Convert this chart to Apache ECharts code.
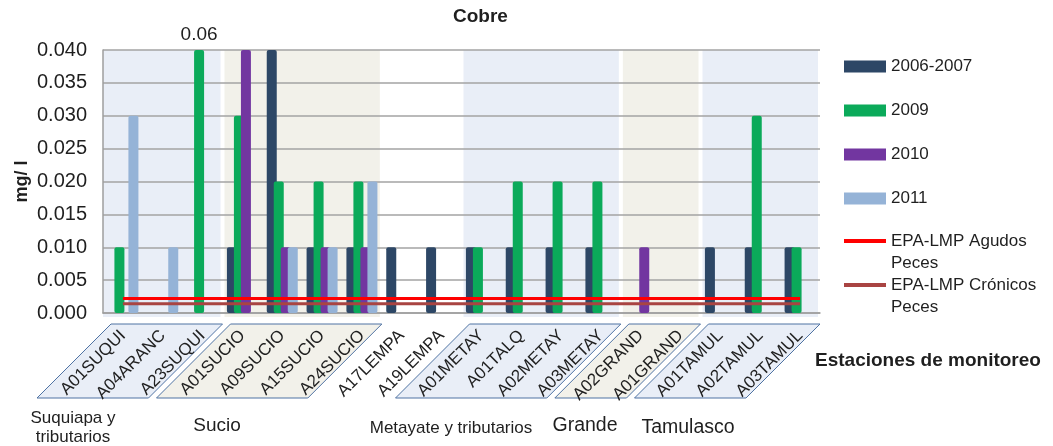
<!DOCTYPE html>
<html>
<head>
<meta charset="utf-8">
<script src="https://cdn.jsdelivr.net/npm/echarts@6/dist/echarts.min.js"></script>
<style>
  html, body { margin: 0; padding: 0; background: #ffffff; }
  #chart { width: 1053px; height: 446px; }
</style>
</head>
<body>
<div id="chart"></div>
<script>
// Copper (Cobre) concentration per monitoring station, mg/l
const stations = ['A01SUQUI', 'A04ARANC', 'A23SUQUI', 'A01SUCIO', 'A09SUCIO', 'A15SUCIO', 'A24SUCIO',
  'A17LEMPA', 'A19LEMPA', 'A01METAY', 'A01TALQ', 'A02METAY', 'A03METAY', 'A02GRAND', 'A01GRAND',
  'A01TAMUL', 'A02TAMUL', 'A03TAMUL'];

const cu2006 = [null, null, null, 0.01, 0.04, 0.01, 0.01, 0.01, 0.01, 0.01, 0.01, 0.01, 0.01, null, null, 0.01, 0.01, 0.01];
const cu2009 = [0.01, null, 0.06, 0.03, 0.02, 0.02, 0.02, null, null, 0.01, 0.02, 0.02, 0.02, null, null, null, 0.03, 0.01];
const cu2010 = [null, null, null, 0.04, 0.01, 0.01, 0.01, null, null, null, null, null, null, 0.01, null, null, null, null];
const cu2011 = [0.03, 0.01, null, null, 0.01, 0.01, 0.02, null, null, null, null, null, null, null, null, null, null, null];

// EPA fish limits (acute / chronic)
const epaAgudos = [0.0022, 0.0022, 0.0022, 0.0022, 0.0022, 0.0022, 0.0022, 0.0022, 0.0022,
  0.0022, 0.0022, 0.0022, 0.0022, 0.0022, 0.0022, 0.0022, 0.0022, 0.0022];
const epaCronicos = [0.0014, 0.0014, 0.0014, 0.0014, 0.0014, 0.0014, 0.0014, 0.0014, 0.0014,
  0.0014, 0.0014, 0.0014, 0.0014, 0.0014, 0.0014, 0.0014, 0.0014, 0.0014];

const seriesNames = ['2006-2007', '2009', '2010', '2011'];
const limitNames = ['EPA-LMP Agudos Peces', 'EPA-LMP Crónicos Peces'];

// River basins: first and last station index of each group
const basinNames = ['Suquiapa y\ntributarios', 'Sucio', 'Metayate y tributarios', 'Grande', 'Tamulasco'];
const basinFirst = [0, 3, 9, 13, 15];
const basinLast = [2, 6, 12, 14, 17];

const yMin = 0, yMax = 0.04, yStep = 0.005;

const FONT = "'Liberation Sans', Arial, sans-serif";
const TEXT = '#1f1f1f';
const barColors = ['#2D4766', '#0BAA5A', '#7236A0', '#95B3D7'];
const limitColors = ['#FF0000', '#A94442'];
const bandFills = ['#E9EEF7', '#F2F1EA'];

const chart = echarts.init(document.getElementById('chart'), null, { renderer: 'canvas' });

function barData(values) {
  return values.map(v => (v !== null && v > yMax)
    ? { value: v, label: { show: true } }
    : v);
}

const barSeries = [cu2006, cu2009, cu2010, cu2011].map((vals, i) => ({
  name: seriesNames[i],
  type: 'bar',
  data: barData(vals),
  barWidth: 10,
  barGap: '-30%',
  clip: true,
  itemStyle: { color: barColors[i], borderRadius: 2 },
  label: {
    show: false,
    position: 'top',
    distance: 6,
    fontFamily: FONT,
    fontSize: 19,
    color: TEXT,
    formatter: p => String(p.value)
  },
  z: 2
}));

const limitSeries = [epaAgudos, epaCronicos].map((vals, i) => ({
  name: limitNames[i],
  type: 'line',
  data: vals,
  symbol: 'none',
  lineStyle: { width: 3, color: limitColors[i] },
  itemStyle: { color: limitColors[i] },
  z: 5 - i
}));

const bandSeries = {
  type: 'custom',
  name: 'basins',
  xAxisIndex: 1,
  yAxisIndex: 0,
  silent: true,
  clip: false,
  z: -1,
  data: basinFirst.map((f, i) => [f, basinLast[i] + 1, i]),
  renderItem: (params, api) => {
    const a = api.coord([api.value(0), yMax]);
    const b = api.coord([api.value(1), yMin]);
    const inset = 2;
    const left = api.value(0) === 0 ? a[0] : a[0] + inset;
    return {
      type: 'rect',
      shape: { x: left, y: a[1], width: b[0] - inset - left, height: b[1] - a[1] + 4 },
      style: { fill: bandFills[api.value(2) % 2] }
    };
  }
};

// Limit entries wrap onto two lines; a blank first line keeps the
// first text line level with the line swatch.
function legendBlock(names, top, iconH, gap, twoLines) {
  return {
    data: names,
    orient: 'vertical',
    left: 839,
    top: top,
    icon: 'rect',
    itemWidth: 42,
    itemHeight: iconH,
    itemGap: gap,
    selectedMode: false,
    formatter: twoLines ? (n => '\n' + n.replace(' Peces', '\nPeces')) : undefined,
    textStyle: twoLines
      ? { fontFamily: FONT, fontSize: 17, color: TEXT, lineHeight: 22 }
      : { fontFamily: FONT, fontSize: 17, color: TEXT }
  };
}

chart.setOption({
  animation: false,
  title: {
    text: 'Cobre',
    left: 448,
    top: 2,
    textStyle: { fontFamily: FONT, fontSize: 19, fontWeight: 'bold', color: TEXT }
  },
  legend: [
    legendBlock(seriesNames, 53, 12, 27, false),
    legendBlock([limitNames[0]], 203, 4, 0, true),
    legendBlock([limitNames[1]], 247, 4, 0, true)
  ],
  grid: { left: 103, right: 233, top: 50, bottom: 133, containLabel: false },
  xAxis: [
    {
      type: 'category',
      data: stations,
      boundaryGap: true,
      axisLine: { lineStyle: { color: '#9E9E9E', width: 1.5 } },
      axisTick: { alignWithLabel: true, length: 5, lineStyle: { color: '#9E9E9E' } },
      axisLabel: {
        interval: 0,
        rotate: 45,
        margin: 20,
        fontFamily: FONT,
        fontSize: 17,
        color: TEXT
      },
      splitLine: { show: false }
    },
    { type: 'value', min: 0, max: stations.length, show: false }
  ],
  yAxis: {
    type: 'value',
    min: yMin,
    max: yMax,
    interval: yStep,
    name: 'mg/ l',
    nameLocation: 'middle',
    nameRotate: 90,
    nameGap: 72,
    nameMoveOverlap: false,
    nameTextStyle: { fontFamily: FONT, fontSize: 18, fontWeight: 'bold', color: TEXT },
    axisLine: { show: true, lineStyle: { color: '#9E9E9E', width: 1.5 } },
    axisTick: { show: false },
    axisLabel: {
      formatter: v => v.toFixed(3),
      margin: 16,
      fontFamily: FONT,
      fontSize: 20,
      color: TEXT
    },
    splitLine: { lineStyle: { color: '#A3A3A3', width: 1.5 } }
  },
  series: [bandSeries, ...barSeries, ...limitSeries]
});

// Parallelogram frames behind the station labels, plus basin names and axis title
function buildDecor() {
  const xAt = v => chart.convertToPixel({ xAxisIndex: 1 }, v);
  const axisY = chart.convertToPixel({ yAxisIndex: 0 }, yMin);
  const top = axisY + 11;
  const depth = 74;
  const els = [];
  basinFirst.forEach((f, i) => {
    const xl = xAt(f) + 8;
    const xr = xAt(basinLast[i] + 1);
    els.push({
      type: 'polygon',
      z: -5,
      silent: true,
      shape: { points: [[xl, top], [xr, top], [xr - depth, top + depth], [xl - depth, top + depth]] },
      style: { fill: bandFills[i % 2], stroke: '#4F73A3', lineWidth: 1 }
    });
  });
  const labelX = [73, 217, 451, 585, 688];
  const labelY = [428, 426, 428, 426, 428];
  const labelSize = [17, 19, 17, 19.5, 19.5];
  basinNames.forEach((n, i) => {
    els.push({
      type: 'text',
      silent: true,
      x: labelX[i],
      y: labelY[i],
      style: {
        text: n,
        fontFamily: FONT,
        fontSize: labelSize[i],
        lineHeight: 19,
        fill: TEXT,
        align: 'center',
        verticalAlign: 'middle'
      }
    });
  });
  els.push({
    type: 'text',
    silent: true,
    x: 815,
    y: 361,
    style: {
      text: 'Estaciones de monitoreo',
      fontFamily: FONT,
      fontSize: 19,
      fontWeight: 'bold',
      fill: TEXT,
      align: 'left',
      verticalAlign: 'middle'
    }
  });
  chart.setOption({ graphic: { elements: els } });
}
buildDecor();
</script>
</body>
</html>
